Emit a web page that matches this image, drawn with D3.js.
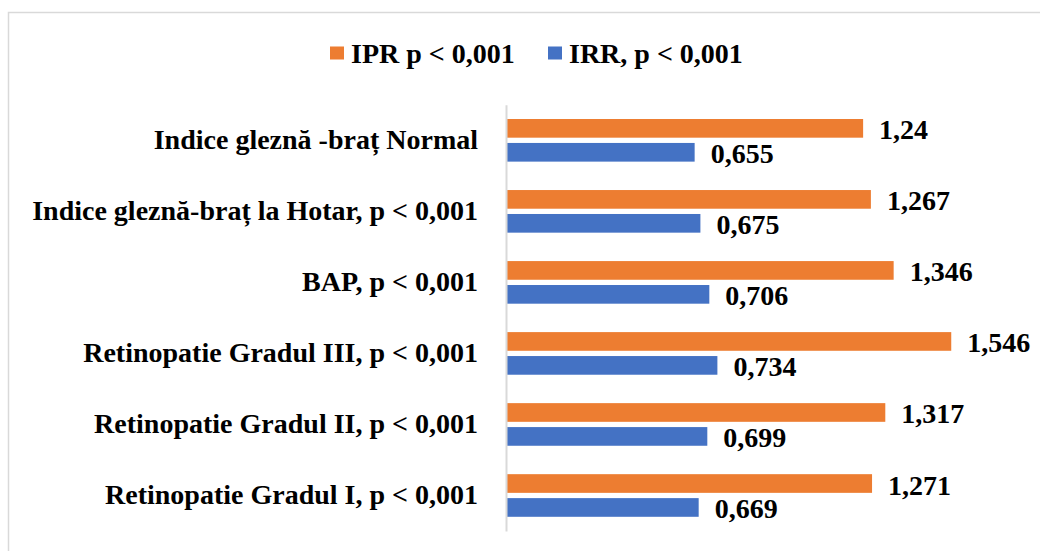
<!DOCTYPE html>
<html>
<head>
<meta charset="utf-8">
<script src="https://cdn.jsdelivr.net/npm/d3@7"></script>
<style>
  body { margin: 0; background: #fff; }
  text { font-family: "Liberation Serif", "Times New Roman", serif; font-weight: bold; fill: #000; }
</style>
</head>
<body>
<div id="chart-area"></div>
<script>
// categories, top to bottom
var categories = [
    "Indice gleznă -braț Normal",
    "Indice gleznă-braț la Hotar, p < 0,001",
    "BAP, p < 0,001",
    "Retinopatie Gradul III, p < 0,001",
    "Retinopatie Gradul II, p < 0,001",
    "Retinopatie Gradul I, p < 0,001"
];
var iprValues = [1.24, 1.267, 1.346, 1.546, 1.317, 1.271];
var irrValues = [0.655, 0.675, 0.706, 0.734, 0.699, 0.669];
var seriesNames = ["IPR p < 0,001", "IRR, p < 0,001"];
var seriesColors = ["#ED7D31", "#4472C4"];

var W = 1040, H = 551;
var svg = d3.select("#chart-area")
  .append("svg")
    .attr("width", W)
    .attr("height", H);

// chart border
svg.append("rect")
    .attr("x", 8.5).attr("y", 12.5)
    .attr("width", W).attr("height", H + 20)
    .attr("fill", "none")
    .attr("stroke", "#d9d9d9")
    .attr("stroke-width", 1.5);

var x0 = 506;
var x = d3.scaleLinear()
    .domain([0, 1])
    .range([x0, x0 + 288]);

var y = d3.scaleBand()
    .domain(categories)
    .range([104.8, 531])
    .paddingInner(0.4)
    .paddingOuter(0.2);

var ySub = d3.scaleBand()
    .domain([0, 1])
    .range([0, y.bandwidth()])
    .paddingInner(0.22);

var rows = categories.map((c, i) => ({ cat: c, vals: [iprValues[i], irrValues[i]] }));

var g = svg.append("g");

var groups = g.selectAll("g.row").data(rows).enter()
  .append("g")
    .attr("class", "row")
    .attr("transform", (d) => "translate(0," + y(d.cat) + ")");

groups.selectAll("rect")
    .data((d) => d.vals.map((v, k) => ({ v: v, k: k })))
    .enter()
  .append("rect")
    .attr("x", x(0))
    .attr("y", (d) => ySub(d.k))
    .attr("width", (d) => x(d.v) - x(0))
    .attr("height", ySub.bandwidth())
    .attr("fill", (d) => seriesColors[d.k]);

var fmt = (v) => String(v).replace(".", ",");

groups.selectAll("text.val")
    .data((d) => d.vals.map((v, k) => ({ v: v, k: k })))
    .enter()
  .append("text")
    .attr("class", "val")
    .attr("x", (d) => x(d.v) + 16)
    .attr("y", (d) => ySub(d.k) + ySub.bandwidth() / 2 + (d.k === 0 ? 1.5 : 1))
    .attr("dominant-baseline", "central")
    .attr("font-size", "28px")
    .text((d) => fmt(d.v));

// left axis
var yAxis = d3.axisLeft(y).tickSize(0).tickPadding(28);
var ax = g.append("g")
    .attr("transform", "translate(" + x0 + ",0)")
    .call(yAxis);
ax.attr("font-size", null).attr("font-family", null);
ax.select(".domain").attr("stroke", "#d9d9d9").attr("stroke-width", 2);
ax.selectAll("text")
    .style("font-size", "28px")
    .attr("fill", "#000");

// legend
var legend = svg.append("g").attr("transform", "translate(330,53)");
var legendX = [0, 218];
seriesNames.forEach((name, i) => {
    var lg = legend.append("g").attr("transform", "translate(" + legendX[i] + ",0)");
    lg.append("rect")
        .attr("x", 0).attr("y", -6.5)
        .attr("width", 14).attr("height", 13)
        .attr("fill", seriesColors[i]);
    lg.append("text")
        .attr("x", 21).attr("y", 0)
        .attr("dominant-baseline", "central")
        .attr("font-size", "28px")
        .text(name);
});
</script>
</body>
</html>
